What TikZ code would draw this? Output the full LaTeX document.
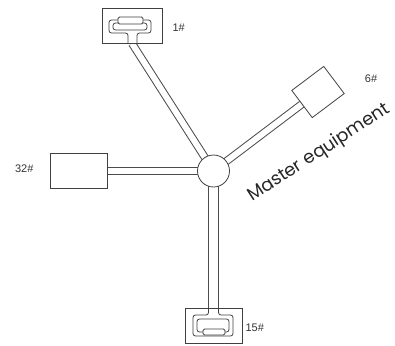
\documentclass[tikz,border=0pt]{standalone}
\usepackage{fontspec}
\newfontfamily\geofont{Poppins}
\newfontfamily\tagfont{Liberation Sans}
\usetikzlibrary{positioning}
\pgfdeclarelayer{background}
\pgfsetlayers{background,main}
\tikzstyle{box} = [rectangle, draw=black!75, fill=white, line width=0.8pt,
inner sep=0pt, minimum width=57pt, minimum height=35pt]
\tikzstyle{hubnode} = [circle, draw=black!75, fill=white, line width=0.8pt,
inner sep=0pt, minimum size=32pt]
\tikzstyle{link} = [draw=black!70, line width=1pt, double=white, double distance=6pt]
\tikzstyle{tag} = [inner sep=0pt, text=black!80, font=\tagfont\fontsize{11}{11}\selectfont]
\tikzstyle{plug} = [draw=black!75, line width=0.8pt, rounded corners=2.5pt]

\begin{document}
\begin{tikzpicture}[x=1pt, y=-1pt]
\useasboundingbox (0,0) rectangle (395,345);
    % nodes
\node [hubnode] (hub) at (213.5,171) {};
\node [box, minimum width=60pt] (box1) at (132,25.5) {};
\node [box] (box32) at (78.5,171) {};
\node [box] (box15) at (213.5,325.5) {};
\node [box, rotate=37, minimum width=40pt, minimum height=34pt] (box6) at (318,92) {};
\node [tag, right=10pt of box1, yshift=-2.5pt] (t1) {1\#};
\node [tag, left=16pt of box32, yshift=2pt] (t32) {32\#};
\node [tag, right=3pt of box15, yshift=-2.5pt] (t15) {15\#};
\node [tag] (t6) at (371,79) {6\#};
\node [rotate=33, inner sep=0pt, text=black!85, font=\geofont\fontsize{18}{18}\selectfont] (master) at (319,153) {Master equipment};

% plugs
\draw [plug] (128,43) -- (128,33) -- (109,33) -- (109,20) -- (151,20) -- (151,33) -- (137,33) -- (137,43);
\draw [plug] (113,23) rectangle (147,30);
\draw [plug, fill=white, rounded corners=1.5pt] (118,17) rectangle (143,24);
\draw [plug] (208.5,308) -- (208.5,315) -- (193,315) -- (193,336) -- (233,336) -- (233,315) -- (218.5,315) -- (218.5,308);
\draw [plug] (197,319) rectangle (229,332);
\draw [plug, fill=white, rounded corners=1.5pt] (203,329) rectangle (225,335);

%edges
\begin{pgfonlayer}{background}
\path [link] (box1.south) -- (hub.center);
\path [link] (box32.east) -- (hub.center);
\path [link] (box6.west) -- (hub.center);
\path [link, double distance=9pt] (box15.north) -- (hub.center);
\end{pgfonlayer}
\end{tikzpicture}
\end{document}
